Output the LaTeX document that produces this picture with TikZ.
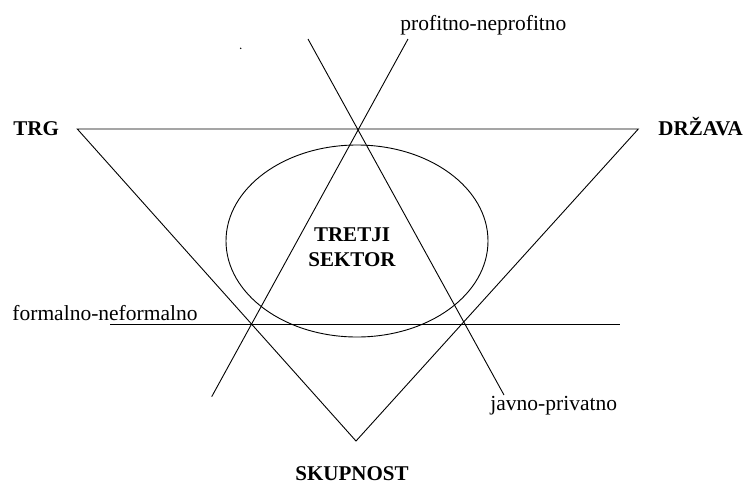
\documentclass[tikz,border=0pt]{standalone}
\usepackage{fontspec}
\setmainfont{Liberation Serif}
\usepackage{tikz}
\usetikzlibrary{positioning}

\begin{document}
\begin{tikzpicture}[x=1pt,y=-1pt,line width=0.9pt,every node/.style={font=\fontsize{21.5}{23}\selectfont,inner sep=0pt},
    pole/.style={font=\fontsize{21}{23}\selectfont\bfseries}]
        \useasboundingbox (0,0) rectangle (752,483);
        % triangle corners
        \coordinate (trgc) at (77.3,129);
        \coordinate (drzc) at (638.3,129);
        \coordinate (skpc) at (356,441);
        \draw (trgc) -- (drzc) -- (skpc) -- cycle;
        % axes through the triangle
        \coordinate (pntop) at (408,39);
        \coordinate (pnbot) at (211.7,396.7);
        \coordinate (jptop) at (308,39);
        \coordinate (jpbot) at (504,395);
        \coordinate (fnleft) at (110,324);
        \coordinate (fnright) at (620,324);
        \draw (pntop) -- (pnbot);
        \draw (jptop) -- (jpbot);
        \draw (fnleft) -- (fnright);
        \draw (357,241) ellipse [x radius=131, y radius=96];
        \fill (240.7,48.3) circle (0.8);
        % labels
        \node[pole,anchor=base west] (trg) at (13,135) {TRG};
        \node[pole,anchor=base west] (drz) at (658,135) {DRŽAVA};
        \node[pole,anchor=base] (skp) at (352,480) {SKUPNOST};
        \node[pole,anchor=base] (tret) at (352,241.7) {TRETJI};
        \node[pole,anchor=base] (sekt) at (352,266) {SEKTOR};
        \node[anchor=base west] (pn) at (400,30) {profitno-neprofitno};
        \node[anchor=base west] (fn) at (12,320) {formalno-neformalno};
        \node[anchor=base west] (jp) at (490,410.7) {javno-privatno};
      \end{tikzpicture}
\end{document}
